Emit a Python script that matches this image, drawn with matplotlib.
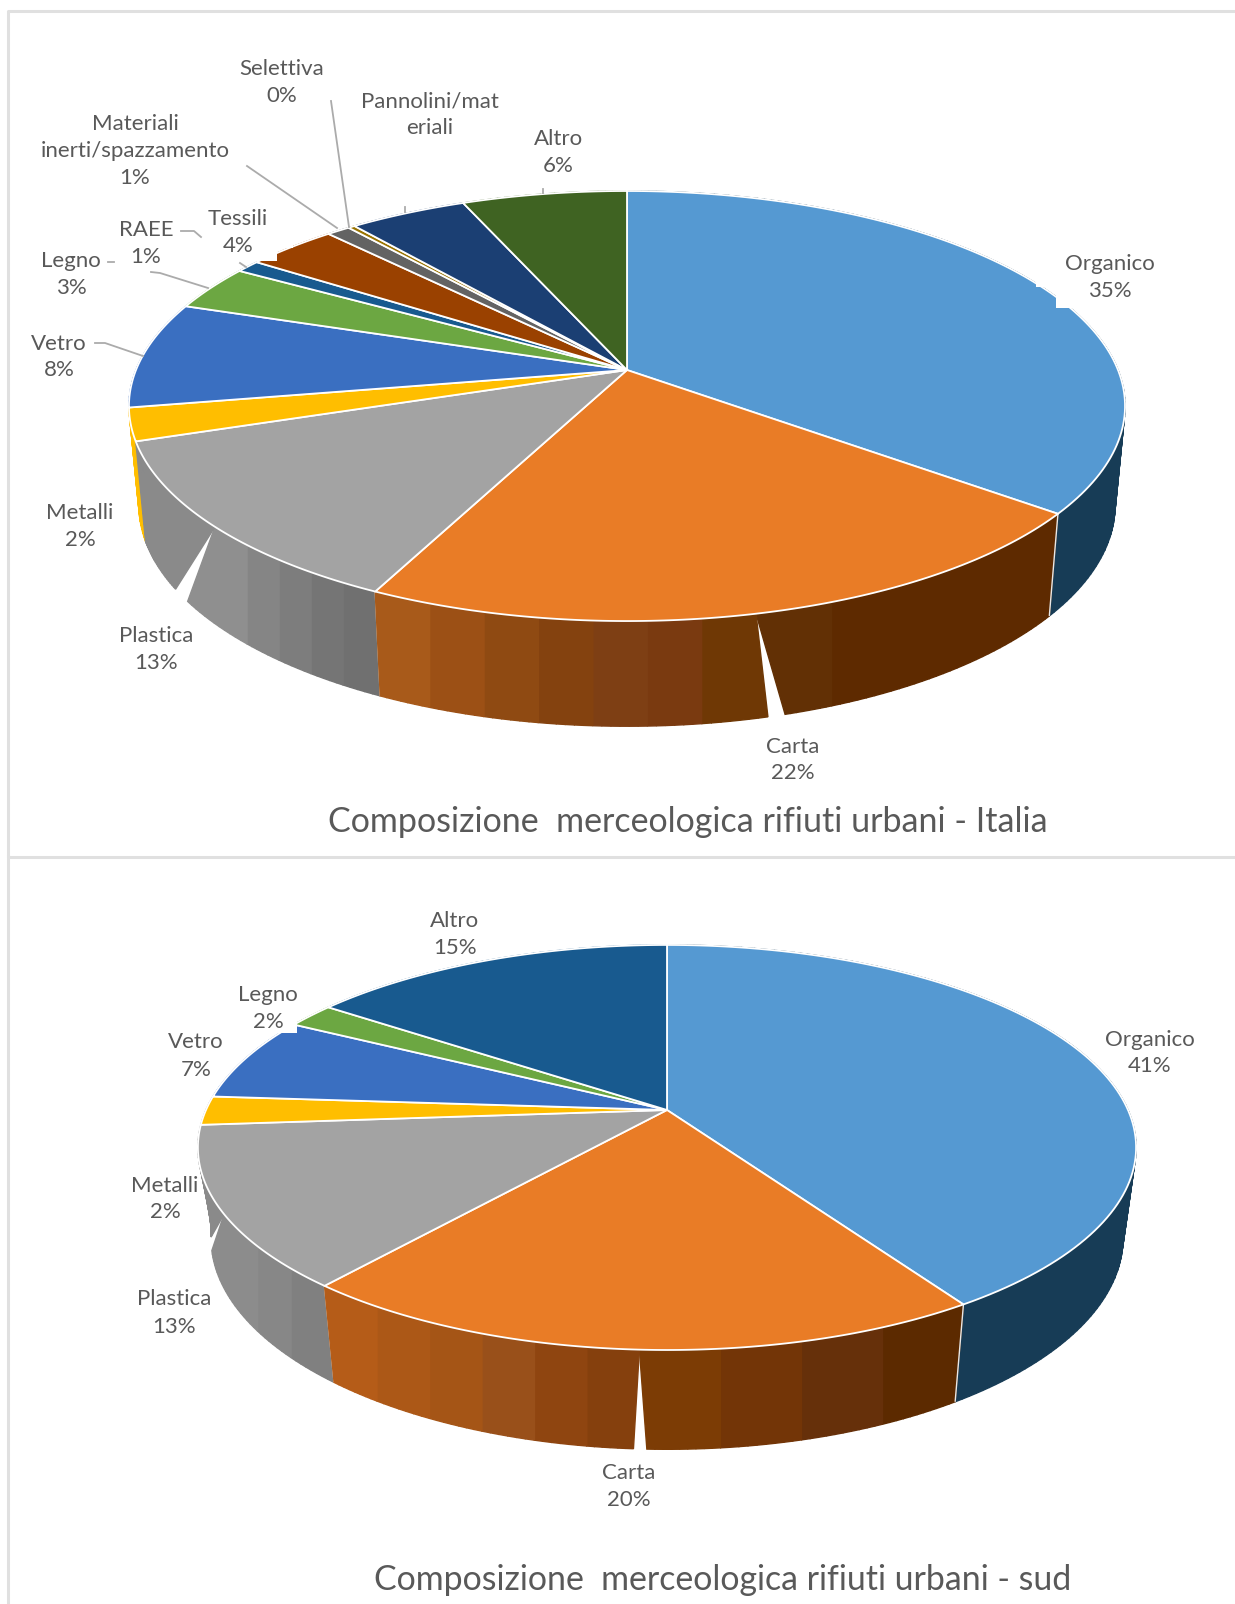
import numpy as np
import matplotlib
matplotlib.use("Agg")
import matplotlib.pyplot as plt
from matplotlib.patches import Polygon, Rectangle

plt.rcParams['font.family'] = ['Lato', 'DejaVu Sans']

# dati - Italia
categorie_it = ['Organico', 'Carta', 'Plastica', 'Metalli', 'Vetro', 'Legno', 'RAEE',
                'Tessili', 'Materiali\ninerti/spazzamento', 'Selettiva',
                'Pannolini/mat\neriali', 'Altro']
valori_it = [35.6, 21.6, 12.6, 2.45, 8.0, 3.4, 0.94, 3.5, 0.9, 0.26, 4.5, 6.3]
percentuali_it = ['35%', '22%', '13%', '2%', '8%', '3%', '1%', '4%', '1%', '0%', '', '6%']

# dati - sud
categorie_sud = ['Organico', 'Carta', 'Plastica', 'Metalli', 'Vetro', 'Legno', 'Altro']
valori_sud = [40.8, 20.1, 12.8, 2.3, 6.75, 2.0, 15.1]
percentuali_sud = ['41%', '20%', '13%', '2%', '7%', '2%', '15%']

colori_it = ['#5599D2', '#E97C26', '#A3A3A3', '#FFBE00', '#3A6FC1', '#6CA742', '#185A8F',
             '#9A4100', '#636363', '#997300', '#1B3F73', '#3F6322']
colori_sud = ['#5599D2', '#E97C26', '#A3A3A3', '#FFBE00', '#3A6FC1', '#6CA742', '#185A8F']

# bande di colore sul bordo laterale
bande_it = {
    'Organico': (['#173C56'], None),
    'Carta': (['#5E2A00', '#5E2A00', '#5E2A00', '#623005'],
              ['#6F3805', '#7A3A10', '#7E3F14', '#84420F', '#8F4A12', '#9C5015', '#A85A1A']),
    'Plastica': (['#707070', '#757575', '#7D7D7D', '#858585', '#8F8F8F'], ['#8A8A8A']),
    'Metalli': (['#FFBE00'], None),
}
bande_sud = {
    'Organico': (['#173C56'], None),
    'Carta': (['#5C2A00', '#66300A', '#733507', '#7C3C05'],
              ['#85400D', '#8F4510', '#99501A', '#A55516', '#AC5817', '#B55C18']),
    'Plastica': (['#808080', '#878787', '#8C8C8C'], ['#8A8A8A']),
    'Metalli': (['#8A8A8A'], None),
}

# geometria (prospettiva) dei due grafici, in pixel
geo_it = dict(cx=627, cy=370, A=491, B=209, k=0.1675, s=0.98, cyb=468, Bb=215)
geo_sud = dict(cx=667, cy=1110, A=461, B=195.6, k=0.185, s=0.972, cyb=1199, Bb=204)

# fessure bianche nel bordo: angolo sopra, angolo sotto destra, angolo sotto sinistra
fessure_it = {'Carta': (167.3, 164.0, 165.8), 'Plastica': (228.2, 235.8, 239.0)}
fessure_sud = {'Carta': (182.8, 182.1, 183.5), 'Plastica': (241.0, 256.0, 259.6)}

pos_it = [(1110, 264, 291), (793, 747, 773), (156, 636, 663), (80, 513, 540), (59, 344, 370),
          (71, 261, 288), (146, 230, 257), (238, 219, 246), (135, 124, 178), (282, 69, 96),
          (430, 102, 128), (558, 139, 166)]
pos_sud = [(1150, 1040, 1066), (629, 1473, 1500), (174, 1299, 1327), (165, 1186, 1212),
           (196, 1042, 1070), (268, 995, 1022), (455, 921, 948)]

guide_it = [
    [(331, 101), (349, 227)],
    [(247, 166), (337, 228)],
    [(181, 231), (194, 231), (201, 237)],
    [(240, 263), (246, 267)],
    [(108, 262), (114, 262)],
    [(151, 272), (160, 273), (208, 288)],
    [(95, 343), (105, 343), (143, 356)],
    [(405, 207), (405, 212)],
    [(543, 189), (543, 193)],
]

# zone bianche dietro le etichette (tagliano il bordo della torta)
tagli = [(1056, 282, 20, 26), (1036, 278, 20, 9), (255, 245, 22, 16), (277, 240, 16, 8),
         (278, 1019, 19, 14)]

GRIGIO = '#595959'


def proietta(ang, g, sotto=False):
    th = np.radians(ang)
    u, v = np.sin(th), np.cos(th)
    w = 1 + g['k'] * v
    if sotto:
        return g['cx'] + g['s'] * g['A'] * u / w, g['cyb'] - g['Bb'] * v / w
    return g['cx'] + g['A'] * u / w, g['cy'] - g['B'] * v / w


def banda(ax, t0, t1, b0, b1, g, colore):
    # tanti quadrilateri sottili, cosi' anche la sagoma laterale resta piena
    n = max(2, int(max(abs(t1 - t0), abs(b1 - b0))) + 1)
    xt, yt = proietta(np.linspace(t0, t1, n + 1), g)
    xb, yb = proietta(np.linspace(b0, b1, n + 1), g, sotto=True)
    for i in range(n):
        pts = [(xt[i], yt[i]), (xt[i + 1], yt[i + 1]), (xb[i + 1], yb[i + 1]), (xb[i], yb[i])]
        ax.add_patch(Polygon(pts, closed=True, facecolor=colore, edgecolor=colore, lw=1.0))


def tratto(ax, t0, t1, b0, b1, g, colori):
    n = len(colori)
    if n == 1:
        banda(ax, t0, t1, b0, b1, g, colori[0])
        return
    # strisce verticali: stesso x sopra e sotto
    at = np.linspace(t0, t1, 200)
    ab = np.linspace(b0, b1, 200)
    xt = proietta(at, g)[0]
    xb = proietta(ab, g, sotto=True)[0]
    xs = np.linspace(xt[0], xt[-1], n + 1)
    if xt[0] > xt[-1]:
        ts = np.interp(xs, xt[::-1], at[::-1])
        bs = np.interp(xs, xb[::-1], ab[::-1])
    else:
        ts = np.interp(xs, xt, at)
        bs = np.interp(xs, xb, ab)
    ts[0], ts[-1], bs[0], bs[-1] = t0, t1, b0, b1
    for i, c in enumerate(colori):
        banda(ax, ts[i], ts[i + 1], bs[i], bs[i + 1], g, c)


def torta(ax, categorie, valori, colori, bande, fessure, g):
    quote = np.array(valori) / sum(valori) * 360
    fine = np.cumsum(quote)
    inizio = fine - quote

    # bordo laterale, dal fondo verso chi guarda
    ordine = sorted(range(len(quote)), key=lambda i: -abs((inizio[i] + fine[i]) / 2 - 180))
    for i in ordine:
        a0, a1 = inizio[i], fine[i]
        destra, sinistra = bande.get(categorie[i], ([colori[i]], None))
        if categorie[i] in fessure:
            t, bd, bs = fessure[categorie[i]]
            tratto(ax, a0, t, a0, bd, g, destra)
            tratto(ax, t, a1, bs, a1, g, sinistra)
        else:
            tratto(ax, a0, a1, a0, a1, g, destra)
        if 90 < a0 < 220:
            x = [proietta(a0, g)[0], proietta(a0, g, sotto=True)[0]]
            y = [proietta(a0, g)[1], proietta(a0, g, sotto=True)[1]]
            ax.add_patch(Polygon(list(zip(x, y)), closed=False, fill=False,
                                 edgecolor='#E8E8E8', lw=1.0))

    # faccia superiore
    for i in range(len(quote)):
        xa, ya = proietta(np.linspace(inizio[i], fine[i], 120), g)
        pts = np.column_stack([np.r_[g['cx'], xa], np.r_[g['cy'], ya]])
        ax.add_patch(Polygon(pts, closed=True, facecolor=colori[i], edgecolor='white',
                             lw=1.3, joinstyle='round'))


def etichette(ax, categorie, percentuali, posizioni):
    for nome, pct, (x, y0, y1) in zip(categorie, percentuali, posizioni):
        righe = nome.split('\n') + ([pct] if pct else [])
        ys = np.linspace(y0, y1, len(righe))
        for riga, y in zip(righe, ys):
            ax.text(x, y, riga, ha='center', va='center', fontsize=16, color=GRIGIO)


fig = plt.figure(figsize=(12.35, 16.04), dpi=100)
ax = fig.add_axes([0, 0, 1, 1])
ax.set_xlim(0, 1235)
ax.set_ylim(1604, 0)
ax.axis('off')

# cornici
ax.plot([1235, 8, 8, 1235], [11, 11, 857, 857], color='#E0E0E0', lw=2.2)
ax.plot([8, 8], [857, 1604], color='#E0E0E0', lw=2.2)

torta(ax, categorie_it, valori_it, colori_it, bande_it, fessure_it, geo_it)
torta(ax, categorie_sud, valori_sud, colori_sud, bande_sud, fessure_sud, geo_sud)

for x, y, l, h in tagli:
    ax.add_patch(Rectangle((x, y), l, h, facecolor='white', edgecolor='none', zorder=1.5))

for tr in guide_it:
    ax.plot(*zip(*tr), color='#ABABAB', lw=1.3)

etichette(ax, categorie_it, percentuali_it, pos_it)
etichette(ax, categorie_sud, percentuali_sud, pos_sud)

ax.text(688, 822, 'Composizione  merceologica rifiuti urbani - Italia', ha='center', va='center',
        fontsize=24.5, color=GRIGIO)
ax.text(723, 1580, 'Composizione  merceologica rifiuti urbani - sud', ha='center', va='center',
        fontsize=24.4, color=GRIGIO)

fig.savefig('out.png', dpi=100)
